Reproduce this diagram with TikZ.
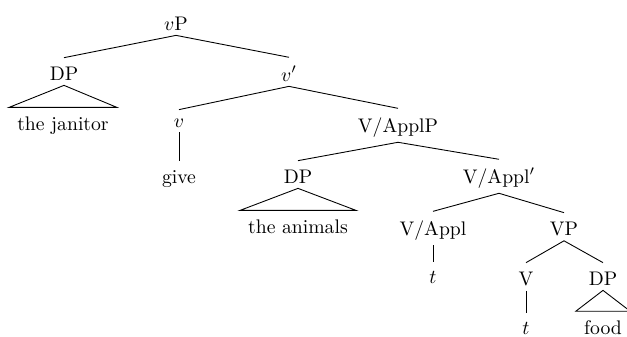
\documentclass[tikz,border=0pt]{standalone}
\begin{document}
\begin{tikzpicture}[x=0.508pt,y=-0.508pt,
  lab/.style={anchor=base,inner sep=2.5pt,font=\fontsize{10}{12}\selectfont},
  rooftext/.style={lab,inner xsep=4pt},
  every path/.style={line width=0.45pt}]
\useasboundingbox (0,0) rectangle (627,336);
\newcommand\branchline[2]{\draw (#1.south) -- ([yshift=1.8pt]#2.north);}
\newcommand\roofline[2]{\draw (#1.south) -- ([yshift=1.8pt]#2.north west) -- ([yshift=1.8pt]#2.north east) -- cycle;}
% nodes
\node[lab] (vP) at (176,30) {$v$P};
\node[lab] (dp1) at (64,80) {DP};
\node[lab] (vbar) at (289,81) {$v'$};
\node[rooftext] (jan) at (63,130) {the janitor};
\node[lab] (v) at (179,127) {$v$};
\node[lab] (give) at (179,183) {give};
\node[lab] (applP) at (398,132) {V/ApplP};
\node[lab] (dp2) at (298,183) {DP};
\node[lab] (applbar) at (499,183) {V/Appl$'$};
\node[rooftext] (anim) at (298,233) {the animals};
\node[lab] (appl) at (433,235) {V/Appl};
\node[lab] (VP) at (564,235) {VP};
\node[lab] (t1) at (433,283) {$t$};
\node[lab] (V) at (526,285) {V};
\node[lab] (dp3) at (603,285) {DP};
\node[lab] (t2) at (526,334) {$t$};
\node[rooftext] (food) at (603,334) {food};
% branches
\branchline{vP}{dp1}
\branchline{vP}{vbar}
\roofline{dp1}{jan}
\branchline{vbar}{v}
\branchline{vbar}{applP}
\branchline{v}{give}
\branchline{applP}{dp2}
\branchline{applP}{applbar}
\roofline{dp2}{anim}
\branchline{applbar}{appl}
\branchline{applbar}{VP}
\branchline{appl}{t1}
\branchline{VP}{V}
\branchline{VP}{dp3}
\branchline{V}{t2}
\roofline{dp3}{food}
\end{tikzpicture}
\end{document}
